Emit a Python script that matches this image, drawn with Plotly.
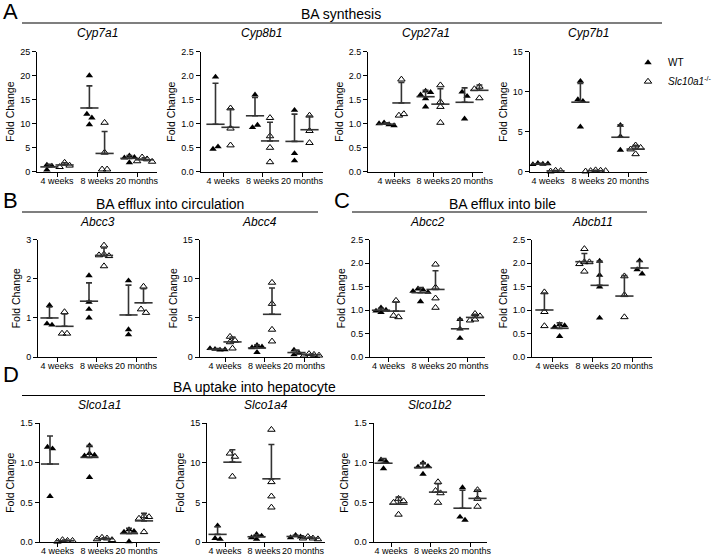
import numpy as np
import plotly.graph_objects as go

W, H = 713, 556
FONT = "Liberation Sans, Arial, Helvetica, sans-serif"

# ---------------- data (fold change) ----------------
AGES = ["4 weeks", "8 weeks", "20 months"]

cyp7a1_wt = [[1.4, 1.2, 0.4], [20.0, 12.0, 11.2, 9.8], [3.3, 3.0, 2.9, 1.9]]
cyp7a1_ko = [[1.9, 1.3, 1.0], [10.2, 4.0, 0.5, 0.5], [3.0, 2.6, 2.2, 2.1]]

cyp8b1_wt = [[1.97, 0.47, 0.52], [1.60, 0.92, 0.97], [1.28, 0.38, 0.23]]
cyp8b1_ko = [[1.32, 0.90, 0.55], [1.12, 0.74, 0.50, 0.20], [1.17, 0.85, 0.60]]

cyp27a1_wt = [[1.02, 0.98, 1.00, 0.96], [1.68, 1.65, 1.60, 1.52, 1.35], [1.66, 1.57, 1.10]]
cyp27a1_ko = [[1.92, 1.17, 1.20], [1.80, 1.45, 1.35, 1.02], [1.77, 1.75, 1.72, 1.53]]

cyp7b1_wt = [[1.05, 0.95, 0.90, 1.00], [11.3, 9.0, 8.8, 5.6], [5.8, 4.4, 2.7]]
cyp7b1_ko = [[0.15, 0.10, 0.05], [0.20, 0.15, 0.10, 0.10, 0.05], [3.3, 3.0, 2.8, 2.2]]

abcc3_wt = [[1.32, 0.85, 0.82], [2.08, 1.40, 1.22, 1.00], [1.95, 0.70, 0.57]]
abcc3_ko = [[1.15, 0.60, 0.60], [2.85, 2.62, 2.58, 2.60, 2.32], [1.80, 1.22, 1.13]]

abcc4_wt = [[1.0, 0.9, 1.1, 0.95], [1.5, 1.3, 1.2, 0.6], [0.9, 0.5, 0.3]]
abcc4_ko = [[2.6, 2.1, 1.9, 1.1], [9.5, 6.8, 3.5, 2.0], [0.4, 0.3, 0.2, 0.2]]

abcc2_wt = [[1.05, 1.00, 0.95, 0.98], [1.45, 1.43, 1.40, 1.38, 1.18], [0.80, 0.60, 0.40]]
abcc2_ko = [[1.20, 0.88, 0.85], [1.97, 1.48, 1.25, 1.05], [0.92, 0.87, 0.80, 0.78]]

abcb11_wt = [[1.38, 0.96, 0.66], [2.30, 2.02, 2.02, 1.98, 1.82], [1.72, 1.32, 0.85]]
abcb11_ko = [[0.69, 0.67, 0.64, 0.44], [2.04, 1.74, 1.49, 0.83], [2.05, 1.86, 1.77]]

slco1a1_wt = [[1.20, 1.18, 0.58], [1.22, 1.12, 1.10, 1.09, 0.82], [0.16, 0.14, 0.13, 0.01]]
slco1a1_ko = [[0.03, 0.02, 0.01, 0.02], [0.06, 0.05, 0.04, 0.03], [0.33, 0.32, 0.30, 0.13]]

slco1a4_wt = [[2.1, 0.5, 0.4], [1.0, 0.8, 0.6, 0.4], [0.9, 0.7, 0.6]]
slco1a4_ko = [[11.2, 10.8, 8.3], [14.2, 7.6, 5.8, 4.4], [0.7, 0.5, 0.5, 0.4]]

slco1b2_wt = [[1.04, 1.02, 0.93], [1.00, 0.96, 0.95, 0.86], [0.69, 0.32, 0.28]]
slco1b2_ko = [[0.55, 0.52, 0.50, 0.35], [0.76, 0.65, 0.62, 0.50], [0.66, 0.55, 0.45]]

# ---------------- layout (pixels) ----------------
ROW_A = (51.5, 171.7)
ROW_B = (239.5, 357.0)
ROW_D = (423.3, 542.3)

# gene, wt, ko, ymax, dtick, tickformat, row, left, first tick, tick spacing, right, swap symbols
PANELS = [
    ("Cyp7a1", cyp7a1_wt, cyp7a1_ko, 25, 5, "d", ROW_A, 37.0, 57.0, 40.0, 157.0, False),
    ("Cyp8b1", cyp8b1_wt, cyp8b1_ko, 2.5, 0.5, ".1f", ROW_A, 200.5, 223.0, 39.5, 323.0, False),
    ("Cyp27a1", cyp27a1_wt, cyp27a1_ko, 2.5, 0.5, ".1f", ROW_A, 368.0, 394.0, 39.0, 483.0, False),
    ("Cyp7b1", cyp7b1_wt, cyp7b1_ko, 15, 5, "d", ROW_A, 529.5, 548.0, 40.0, 647.0, False),
    ("Abcc3", abcc3_wt, abcc3_ko, 3, 1, "d", ROW_B, 38.0, 57.0, 39.5, 157.0, False),
    ("Abcc4", abcc4_wt, abcc4_ko, 15, 5, "d", ROW_B, 199.5, 225.0, 39.5, 320.0, False),
    ("Abcc2", abcc2_wt, abcc2_ko, 2.5, 0.5, ".1f", ROW_B, 370.0, 388.5, 39.5, 485.0, False),
    ("Abcb11", abcb11_wt, abcb11_ko, 2.5, 0.5, ".1f", ROW_B, 532.0, 552.0, 40.0, 652.0, True),
    ("Slco1a1", slco1a1_wt, slco1a1_ko, 1.5, 0.5, ".1f", ROW_D, 39.5, 57.5, 39.5, 160.0, False),
    ("Slco1a4", slco1a4_wt, slco1a4_ko, 15, 5, "d", ROW_D, 207.0, 225.0, 39.0, 325.0, False),
    ("Slco1b2", slco1b2_wt, slco1b2_ko, 1.5, 0.5, ".1f", ROW_D, 373.5, 391.0, 39.5, 487.0, False),
]

SIDE = 0.19  # half distance between WT and KO columns (in group units)


def px_x(p):
    return p / W


def px_y(p):
    return 1 - p / H


def swarm(vals, ppu, dx=5.0, dy=4.5):
    """horizontal offsets (px) so that close points do not overlap"""
    placed = []
    for v in vals:
        yp = v * ppu
        for k in [0, 1, -1, 2, -2, 3, -3]:
            o = k * dx
            if all(abs(o - po) >= dx or abs(yp - py) >= dy for po, py in placed):
                break
        placed.append((o, yp))
    n = len(placed)
    order = sorted(range(n), key=lambda i: placed[i][1])
    offs = [p[0] for p in placed]
    clusters, cur = [], [order[0]]
    for a, b in zip(order[:-1], order[1:]):
        if placed[b][1] - placed[a][1] < dy:
            cur.append(b)
        else:
            clusters.append(cur)
            cur = [b]
    clusters.append(cur)
    for c in clusters:
        m = (max(offs[i] for i in c) + min(offs[i] for i in c)) / 2
        for i in c:
            offs[i] -= m
    return offs


fig = go.Figure()
layout_axes = {}
annotations = []

for i, (gene, wt, ko, ymax, dt, fmt, row, left, t0, sp, right, swap) in enumerate(PANELS):
    k = "" if i == 0 else str(i + 1)
    xa, ya = "x" + k, "y" + k
    top, bot = row
    ppu = (bot - top) / ymax
    styles = [
        dict(symbol="triangle-up", size=6.5, color="black", line=dict(width=0)),
        dict(symbol="triangle-up-open", size=6.5, color="black", line=dict(width=1, color="black")),
    ]
    if swap:
        styles = styles[::-1]
    names = ["WT", "<i>Slc10a1</i><sup>-/-</sup>"]
    mx, my, me = [], [], []
    for s, (series, st) in enumerate(zip([wt, ko], styles)):
        side = -SIDE if s == 0 else SIDE
        xs, ys = [], []
        for g, vals in enumerate(series):
            offs = swarm(vals, ppu)
            for v, o in zip(vals, offs):
                xs.append(g + side + o / sp)
                ys.append(v)
            arr = np.array(vals, dtype=float)
            mx.append(g + side)
            my.append(arr.mean())
            me.append(arr.std(ddof=1))
        fig.add_trace(go.Scatter(
            x=xs, y=ys, mode="markers", marker=st, xaxis=xa, yaxis=ya,
            name=names[s], legendgroup=names[s], showlegend=(i == 0),
            cliponaxis=False, hoverinfo="skip"))
    fig.add_trace(go.Scatter(
        x=mx, y=my, mode="markers", xaxis=xa, yaxis=ya, showlegend=False,
        marker=dict(symbol="line-ew", size=13, color="#333", line=dict(width=1.6, color="#333")),
        error_y=dict(type="data", symmetric=False, array=me, arrayminus=[0] * len(me),
                     width=3, thickness=1.6, color="#333"),
        cliponaxis=False, hoverinfo="skip"))

    layout_axes["xaxis" + k] = dict(
        domain=[px_x(left), px_x(right)], anchor=ya,
        range=[(left - t0) / sp, (right - t0) / sp],
        tickvals=[0, 1, 2], ticktext=AGES, tickangle=0, ticklabelstandoff=-4,
        showline=True, linecolor="black", linewidth=1,
        ticks="outside", ticklen=4, tickwidth=1, tickcolor="black",
        tickfont=dict(family=FONT, size=9, color="black"),
        showgrid=False, zeroline=False, fixedrange=True)
    layout_axes["yaxis" + k] = dict(
        domain=[px_y(bot), px_y(top)], anchor=xa, range=[0, ymax],
        tick0=0, dtick=dt, tickformat=fmt, showline=True, linecolor="black", linewidth=1,
        ticks="outside", ticklen=4, tickwidth=1, tickcolor="black",
        tickfont=dict(family=FONT, size=9, color="black"),
        title=dict(text="Fold Change", font=dict(family=FONT, size=10.5, color="black"), standoff=3),
        showgrid=False, zeroline=False, fixedrange=True)
    annotations.append(dict(
        text="<i>%s</i>" % gene, x=px_x((left + right) / 2), y=px_y(top - 18),
        xref="paper", yref="paper", xanchor="center", yanchor="middle", showarrow=False,
        font=dict(family=FONT, size=12, color="black")))

# panel letters and section headings
LETTERS = [("A", 1, 12), ("B", 1, 200), ("C", 332, 201), ("D", 1, 374)]
for t, x, y in LETTERS:
    annotations.append(dict(text=t, x=px_x(x), y=px_y(y), xref="paper", yref="paper",
                            xanchor="left", yanchor="middle", showarrow=False,
                            font=dict(family=FONT, size=22, color="black")))

SECTIONS = [
    ("BA synthesis", 341, 14, 22, 662, 23),
    ("BA efflux into circulation", 170, 204, 22, 318, 212),
    ("BA efflux into bile", 503, 204, 352, 647, 212),
    ("BA uptake into hepatocyte", 254, 387, 22, 485, 395.5),
]
shapes = []
for t, cx, cy, x0, x1, ly in SECTIONS:
    annotations.append(dict(text=t, x=px_x(cx), y=px_y(cy), xref="paper", yref="paper",
                            xanchor="center", yanchor="middle", showarrow=False,
                            font=dict(family=FONT, size=14, color="black")))
    shapes.append(dict(type="line", xref="paper", yref="paper", x0=px_x(x0), x1=px_x(x1),
                       y0=px_y(ly), y1=px_y(ly), line=dict(color="black", width=1.2)))

fig.update_layout(
    width=W, height=H,
    margin=dict(l=0, r=0, t=0, b=0, pad=0, autoexpand=False),
    paper_bgcolor="white", plot_bgcolor="white",
    font=dict(family=FONT, color="black"),
    annotations=annotations, shapes=shapes,
    showlegend=True,
    legend=dict(x=px_x(628), y=px_y(48), xanchor="left", yanchor="top",
                font=dict(family=FONT, size=10, color="black"),
                bgcolor="rgba(0,0,0,0)", borderwidth=0, tracegroupgap=0),
    **layout_axes)

fig.write_html("out.html", config={"displayModeBar": False, "staticPlot": True},
               post_script="document.body.style.margin='0px';")
